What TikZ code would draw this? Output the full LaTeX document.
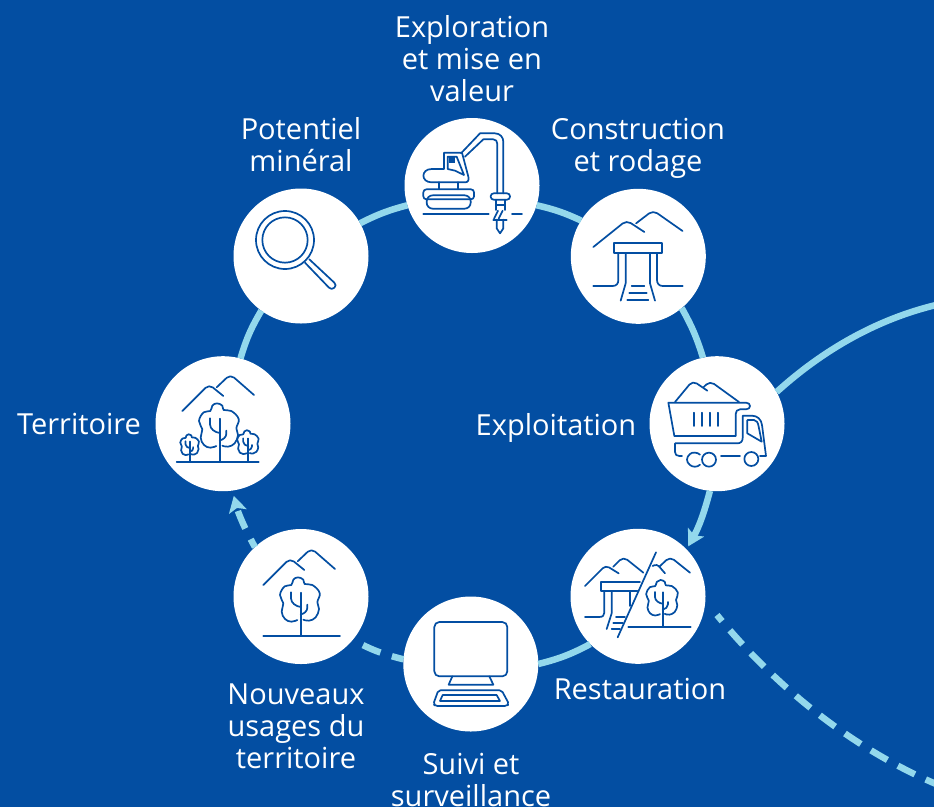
\documentclass[tikz,border=0pt]{standalone}
\usepackage{fontspec}
\setmainfont{Open Sans}
\usetikzlibrary{arrows.meta}
\definecolor{bgblue}{HTML}{034EA2}
\definecolor{ringblue}{HTML}{93D8EC}
\tikzset{
  hub/.style={circle,fill=white,draw=none,minimum size=135pt,inner sep=0pt,outer sep=0pt},
  lab/.style={text=white,font=\fontsize{29}{32}\selectfont,align=center,inner sep=0pt},
  ring/.style={draw=ringblue,line width=6.5pt},
  dashring/.style={ring,dash pattern=on 19pt off 12pt},
  headtip/.style={-{Stealth[length=16pt,width=18pt,inset=3.5pt]}},
  icon/.style={draw=bgblue,line width=1.7pt,line cap=round,line join=round},
  zoomed/.style={shift={#1},x=0.33333pt,y=-0.33333pt,icon},
  mounts/.pic={
    \draw[icon,rounded corners=5pt] (0,0)--(80,-80)--(123,-45);
    \draw[icon,rounded corners=5pt] (103,-71)--(144,-110)--(215,-48);
  },
  treepic/.pic={
    \draw[icon] (0,-129)--(0,0);
    \draw[icon] plot[smooth,tension=0.7] coordinates {(-10,-47)(-28,-42)(-47,-50)(-57,-72)(-52,-97)(-62,-122)(-48,-148)(-28,-152)(-22,-168)(-8,-175)(8,-168)(12,-155)(35,-152)(57,-128)(50,-100)(55,-80)(45,-55)(25,-45)(8,-48)};
    \draw[icon] (-29,-130)--(-29,-112) .. controls (-29,-98) and (-14,-88) .. (0,-86);
    \draw[icon] (20,-93)--(20,-84) .. controls (20,-74) and (10,-65) .. (0,-64);
  }
}
\begin{document}
\begin{tikzpicture}[x=1pt,y=-1pt]
\useasboundingbox (0,0) rectangle (934,807);
\fill[bgblue] (0,0) rectangle (934,807);
\clip (0,0) rectangle (934,807);
% hubs
\node[hub] (explo) at (472,185.5) {};
\node[hub] (constr) at (638.3,256.3) {};
\node[hub] (exploit) at (717,423.7) {};
\node[hub] (resto) at (638,596.3) {};
\node[hub] (suivi) at (470.8,664) {};
\node[hub] (nouv) at (301,596.5) {};
\node[hub] (terr) at (223,423.7) {};
\node[hub] (poten) at (301,256) {};
\coordinate (exitA) at (936,305);
\coordinate (exitB) at (936,784);
\coordinate (dashstart) at (717,615);
% connectors
\draw[ring] (poten.29) to[bend left=6] (explo.197);
\draw[ring] (explo.-17) to[bend left=6] (constr.148);
\draw[ring] (constr.-50) to[bend left=6] (exploit.102.5);
\draw[ring,headtip,shorten >=3.5pt] (exploit.-96) to[bend left=7] (resto.44.5);
\draw[ring] (resto.225.6) to[bend left=7] (suivi.0);
\draw[dashring,dash phase=7pt] (suivi.176.6) to[bend left=7] (nouv.-40);
\draw[dashring,dash phase=10pt,headtip,shorten >=5.5pt] (nouv.133) to[bend left=7] (terr.-82);
\draw[ring] (terr.75) to[bend left=7] (poten.234.8);
\draw[ring] (exploit.28.5) .. controls (824,349) and (878,319) .. (exitA);
\draw[dashring,dash phase=11pt] (dashstart) .. controls (775,686) and (850,747) .. (exitB);
% labels
\node[lab] (l1) at (472,59) {Exploration\\et mise en\\valeur};
\node[lab] (l2) at (638,148) {Construction\\et rodage};
\node[lab] (l3) at (301,145) {Potentiel\\minéral};
\node[lab] (l4) at (79,424) {Territoire};
\node[lab] (l5) at (556,428) {Exploitation};
\node[lab] (l6) at (640,689) {Restauration};
\node[lab] (l7) at (296,726) {Nouveaux\\usages du\\territoire};
\node[lab] (l8) at (471,780) {Suivi et\\surveillance};
% excavator + mine
\begin{scope}[zoomed={(400,110)}]
  \draw (132,177)--(95,177) .. controls (62,177) and (62,217) .. (95,217)--(195,217) .. controls (205,217) and (207,210) .. (205,200)--(186,128)--(132,128)--cycle;
  \draw (143,177)--(143,140)--(170,140)--(192,195)--(165,182)--(143,177);
  \fill[bgblue] (146,141) rectangle (165,160);
  \draw (183,130)--(240,70)--(285,70) .. controls (300,70) and (310,82) .. (310,95)--(310,250);
  \draw (195,140)--(250,88)--(280,88) .. controls (288,88) and (292,94) .. (292,102)--(292,250);
  \draw[rounded corners=3pt] (272,250) rectangle (330,269);
  \draw (287,269)--(287,300); \draw (315,269)--(315,300);
  \draw (287,286)--(315,286);
  \draw (282,326)--(294,302); \draw (296,326)--(308,302);
  \draw (280,329)--(320,329);
  \draw (290,329)--(290,355)--(300,370)--(310,355)--(310,329);
  \draw (70,311)--(266,311); \draw (336,311)--(366,311);
  \draw (118,217)--(118,238); \draw (175,217)--(175,238);
  \draw[rounded corners=3pt] (70,238) rectangle (222,268);
  \draw[rounded corners=6pt] (80,256) rectangle (212,296);
  % mine
  \pic[xscale=1.245,yscale=1.0] at (580,411) {mounts};
  \draw (641,398) rectangle (787,430);
  \draw (580,528)--(638,528) .. controls (650,528) and (655,520) .. (655,510)--(655,430);
  \draw (677,430)--(677,520)--(662,572);
  \draw (771,430)--(771,510) .. controls (771,520) and (777,528) .. (788,528)--(848,528);
  \draw (750,430)--(750,520)--(765,572);
  \draw (695,527)--(733,527); \draw (688,549)--(740,549); \draw (682,570)--(745,570);
\end{scope}
% magnifier and territory
\begin{scope}[zoomed={(150,180)}]
  \draw (405,180) circle (87);
  \draw (405,180) circle (68);
  \draw (465,248)--(537,323) .. controls (546,334) and (565,318) .. (553,308)--(478,238);
  \pic at (97,693) {mounts};
  \draw (80,845)--(326,845);
  \pic at (209,845) {treepic};
  \pic[scale=0.47] at (120,845) {treepic};
  \pic[scale=0.54] at (295,845) {treepic};
\end{scope}
% truck and restoration
\begin{scope}[zoomed={(560,350)}]
  \draw[rounded corners=5pt] (345,156)--(398,92)--(442,122);
  \draw[rounded corners=5pt] (430,112)--(450,93)--(537,156);
  \draw (325,158)--(558,158) .. controls (574,158) and (574,178) .. (558,178)--(540,178) .. controls (532,178) and (527,184) .. (527,192)--(527,258)--(343,258)--cycle;
  \foreach \xx in {403,427,451,475} \draw (\xx,188)--(\xx,228);
  \draw (366,318)--(358,318) .. controls (350,318) and (345,314) .. (345,306)--(345,280)--(532,280) .. controls (542,280) and (548,274) .. (548,264)--(548,197)--(575,197) .. controls (592,197) and (604,208) .. (606,225)--(618,318)--(600,318);
  \draw (562,210)--(582,210) .. controls (590,210) and (594,218) .. (596,230)--(605,275)--(562,250)--cycle;
  \draw (420,314) .. controls (412,306) and (396,306) .. (390,312) .. controls (378,322) and (378,336) .. (390,345) .. controls (398,352) and (412,352) .. (420,344);
  \draw (447,329) circle (21);
  \draw (574,327) circle (21);
  \draw (483,318)--(540,318);
  % restoration
  \draw[rounded corners=4pt] (75,708)--(137,646)--(176,670);
  \draw[rounded corners=5pt] (160,650)--(190,620)--(250,668);
  \draw[rounded corners=3pt] (278,648)--(291,642)--(315,670);
  \draw[rounded corners=5pt] (298,650)--(330,620)--(390,668);
  \draw (288,607)--(173,862);
  \draw (240,697)--(122,697)--(122,723)--(232,723);
  \draw (75,801)--(118,801) .. controls (128,801) and (133,796) .. (133,788)--(133,723);
  \draw (155,723)--(155,790)--(140,837);
  \draw (210,723)--(210,768);
  \draw (168,800)--(195,800); \draw (160,818)--(188,818); \draw (155,836)--(180,836);
  \draw (205,830)--(392,830);
  \pic[scale=0.8] at (308,830) {treepic};
\end{scope}
% new uses and computer
\begin{scope}[zoomed={(220,520)}]
  \pic at (130,195) {mounts};
  \draw (130,347)--(360,347);
  \pic at (242,347) {treepic};
  \draw[rounded corners=5pt] (643,306) rectangle (862,469);
  \draw (697,469)--(686,494)--(820,494)--(808,469);
  \draw[rounded corners=2pt] (655,511)--(845,511)--(867,552)--(860,558)--(646,558)--(640,552)--cycle;
  \draw (668,525)--(830,525)--(840,543)--(660,543)--cycle;
\end{scope}
\end{tikzpicture}
\end{document}
